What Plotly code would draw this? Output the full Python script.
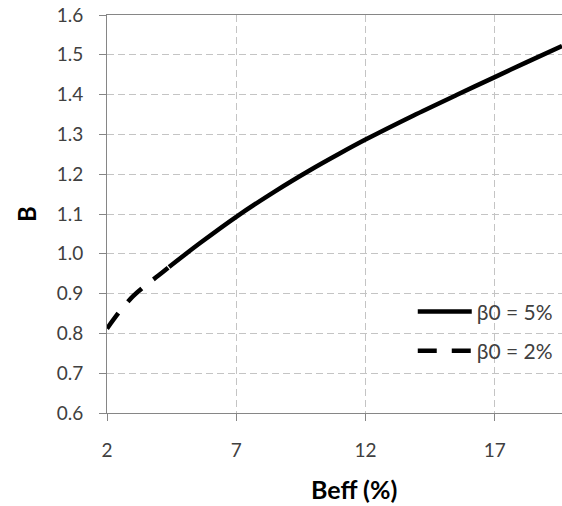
import plotly.graph_objects as go

# Data
beff_solid = [4.4, 5.6, 7.0, 8.5, 9.85, 11.0, 12.0, 13.84, 15.52, 17.0, 18.22, 19.6]
b_solid = [0.967, 1.027, 1.093, 1.157, 1.21, 1.252, 1.287, 1.347, 1.399, 1.444, 1.481, 1.522]

beff_dash = [2.0, 2.5, 3.0, 3.5, 4.0, 4.4]
b_dash = [0.812, 0.856, 0.893, 0.921, 0.946, 0.967]

x_ticks = [2, 7, 12, 17]
y_ticks = [0.6, 0.7, 0.8, 0.9, 1.0, 1.1, 1.2, 1.3, 1.4, 1.5, 1.6]

FONT = "Lato"

fig = go.Figure()
fig.add_trace(go.Scatter(x=beff_solid, y=b_solid, mode="lines", name="β0 = 5%",
                         legendgroup="a",
                         line=dict(color="black", width=4.5, shape="spline", smoothing=0.8)))
fig.add_trace(go.Scatter(x=beff_dash, y=b_dash, mode="lines", name="β0 = 2%",
                         legendgroup="b",
                         line=dict(color="black", width=4.5, dash="19px,15px", shape="spline", smoothing=0.8)))

fig.update_layout(
    width=562, height=506,
    margin=dict(l=107, r=0, t=15, b=93),
    plot_bgcolor="white", paper_bgcolor="white",
    font=dict(family=FONT, size=19, color="#404040"),
    legend=dict(x=0.672, y=0.205, xanchor="left", yanchor="middle",
                bgcolor="rgba(0,0,0,0)", traceorder="grouped", tracegroupgap=9,
                itemwidth=54,
                font=dict(family=FONT, size=21, color="#404040")),
    annotations=[
        dict(text="<b>Beff (%)</b>", xref="paper", yref="paper", x=0.543, y=-0.191,
             xanchor="center", yanchor="middle", showarrow=False,
             font=dict(family=FONT, size=25, color="black")),
        dict(text="<b>B</b>", xref="paper", yref="paper", x=-0.178, y=0.5,
             xanchor="center", yanchor="middle", showarrow=False, textangle=-90,
             font=dict(family=FONT, size=24, color="black")),
    ],
)
fig.update_xaxes(range=[2, 19.6], tickvals=x_ticks, ticktext=[str(v) for v in x_ticks],
                 showline=True, linecolor="#868686", linewidth=1, mirror=True,
                 ticks="outside", ticklen=7, tickcolor="#868686",
                 ticklabelstandoff=13,
                 showgrid=True, gridcolor="#c4c4c4", griddash="7px,4px", gridwidth=1,
                 zeroline=False)
fig.update_yaxes(range=[0.6, 1.6], tickvals=y_ticks, ticktext=[f"{v:.1f}" for v in y_ticks],
                 showline=True, linecolor="#868686", linewidth=1,
                 ticks="outside", ticklen=7, tickcolor="#868686",
                 ticklabelstandoff=12,
                 showgrid=True, gridcolor="#c4c4c4", griddash="7px,4px", gridwidth=1,
                 zeroline=False)

# remove the browser's default 8px body margin so the figure sits at the page corner
fig.write_html("out.html", config={"displayModeBar": False},
               post_script="document.body.style.margin='0';")
